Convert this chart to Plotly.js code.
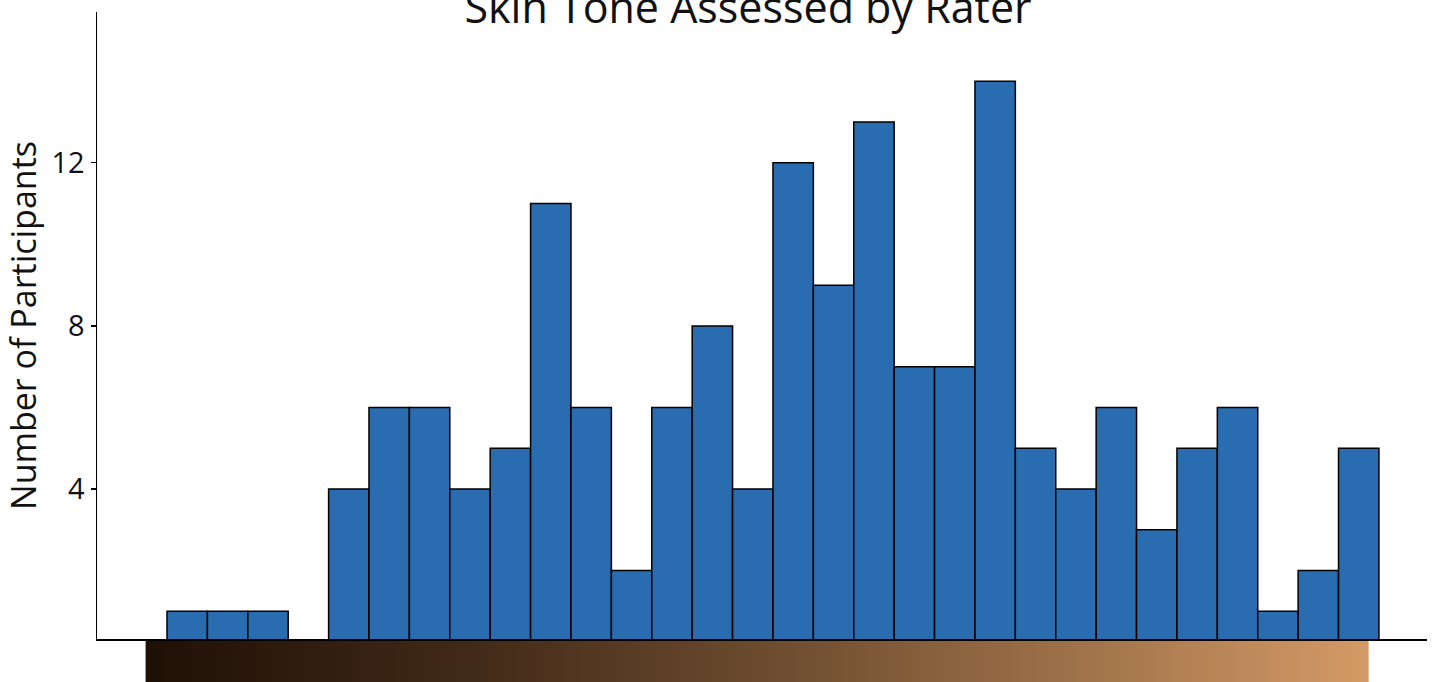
<!DOCTYPE html>
<html>
<head>
<meta charset="utf-8">
<script src="https://cdn.plot.ly/plotly-3.0.1.min.js"></script>
<style>html,body{margin:0;padding:0;background:#fff;}#chart{width:1435px;height:682px;}</style>
</head>
<body>
<div id="chart"></div>
<script>
// Data
const bins = [1,2,3,4,5,6,7,8,9,10,11,12,13,14,15,16,17,18,19,20,21,22,23,24,25,26,27,28,29,30];
const counts = [1,1,1,0,4,6,6,4,5,11,6,2,6,8,4,12,9,13,7,7,14,5,4,6,3,5,6,1,2,5];
const yTicks = [4,8,12];
const titleText = "Skin Tone Assessed by Rater";
const yTitle = "Number of Participants";
// Skin tone gradient strip (dark -> light)
const toneStops = ['#1f1006','#3f2817','#6b4a2e','#9c7048','#d49a66'];
const toneStart = -0.03, toneEnd = 30.25, toneSteps = 300;

const toneX = [], toneZ = [];
for (let k = 0; k <= toneSteps; k++) {
  toneX.push(toneStart + (toneEnd - toneStart) * k / toneSteps);
  if (k < toneSteps) toneZ.push(k / (toneSteps - 1));
}
const colorscale = toneStops.map((c, i) => [i / (toneStops.length - 1), c]);

const font = "Open Sans, Liberation Sans, sans-serif";

const traces = [
  {
    type: 'bar', x: bins, y: counts, width: 1,
    marker: {color: '#2a6cb0', line: {color: '#000', width: 1.5}},
    xaxis: 'x', yaxis: 'y', hoverinfo: 'skip'
  },
  {
    type: 'heatmap', x: toneX, y: [0], z: [toneZ],
    colorscale: colorscale, showscale: false, zsmooth: false,
    xaxis: 'x', yaxis: 'y2', hoverinfo: 'skip'
  }
];

const layout = {
  width: 1435, height: 682,
  margin: {l: 97, r: 8, t: 12, b: 0},
  paper_bgcolor: '#fff', plot_bgcolor: 'rgba(0,0,0,0)',
  showlegend: false,
  font: {family: font, color: '#111'},
  title: {
    text: titleText, font: {family: font, size: 43, color: '#111'},
    x: 748 / 1435, xanchor: 'center', xref: 'container',
    y: 1 - 8 / 682, yanchor: 'middle', yref: 'container'
  },
  xaxis: {
    range: [-1.233, 31.69], anchor: 'y',
    showline: true, linecolor: '#000', linewidth: 1.5,
    showgrid: false, zeroline: false, showticklabels: false, ticks: ''
  },
  yaxis: {
    domain: [43 / 670, 1], range: [0.32, 15.7], anchor: 'x',
    showline: true, linecolor: '#000', linewidth: 1.5,
    showgrid: false, zeroline: false,
    tickvals: yTicks, ticks: 'outside', ticklen: 5, tickcolor: '#000', tickwidth: 1.2,
    tickfont: {family: font, size: 29, color: '#111'},
    title: {text: yTitle, font: {family: font, size: 34, color: '#111'}, standoff: 16}
  },
  yaxis2: {
    domain: [0, 41 / 670], range: [-0.5, 0.5], anchor: 'x',
    visible: false, showgrid: false, zeroline: false
  }
};

Plotly.newPlot('chart', traces, layout, {displayModeBar: false, staticPlot: true});
</script>
</body>
</html>
